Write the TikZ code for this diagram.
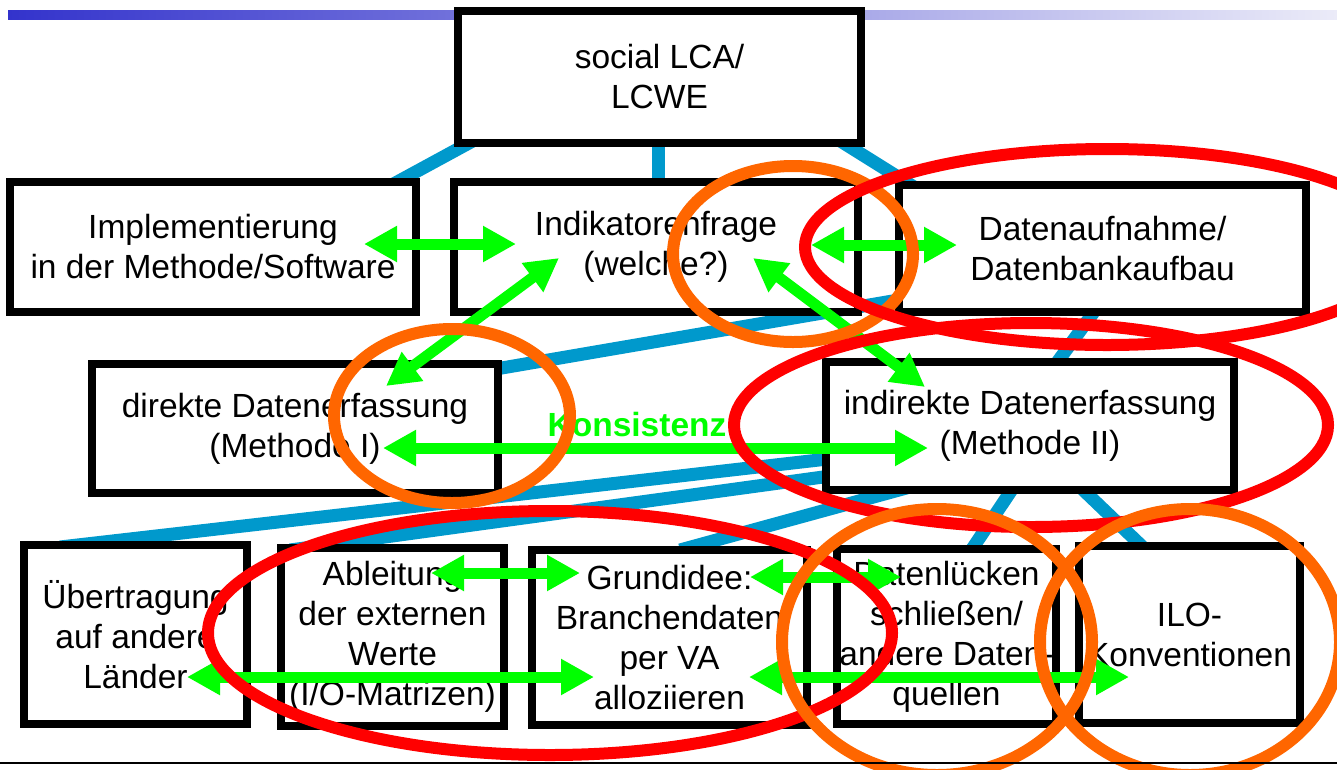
\documentclass[tikz,border=0pt]{standalone}
\usepackage{fontspec}
\setmainfont{Liberation Sans}
\usetikzlibrary{arrows.meta,calc}
\definecolor{linkblue}{RGB}{0,153,204}
\definecolor{arrowgreen}{RGB}{0,255,0}
\definecolor{ringorange}{RGB}{255,102,0}
\definecolor{ringred}{RGB}{255,0,0}
\definecolor{barleft}{RGB}{51,51,204}
\definecolor{barright}{RGB}{235,235,248}
\begin{document}
\begin{tikzpicture}[x=1pt,y=-1pt,
  box/.style={draw=black, line width=8pt, fill=white, inner sep=0pt, align=center,
    font=\fontsize{33.5}{40}\selectfont},
  link/.style={draw=linkblue, line width=13pt},
  biarrow/.style={draw=arrowgreen, line width=11pt,
    {Triangle[length=33pt,width=34pt]}-{Triangle[length=33pt,width=34pt]}},
  ring/.style={line width=12pt}]
\useasboundingbox (0,0) rectangle (1337,769);

% title gradient bar
\shade[left color=barleft,right color=barright] (8,10) rectangle (1337,19);

% connector end points (blue tree lines, drawn behind the boxes)
\coordinate (t1a) at (480,137);  \coordinate (t1b) at (388,187);
\coordinate (t2a) at (658,137);  \coordinate (t2b) at (658,187);
\coordinate (t3a) at (834,137);  \coordinate (t3b) at (914,187);
\coordinate (d1a) at (910,298);  \coordinate (d1b) at (490,370);
\coordinate (d2a) at (1099,305); \coordinate (d2b) at (1053,368);
\coordinate (i1a) at (845,457);  \coordinate (i1b) at (60,547);
\coordinate (i2a) at (845,474);  \coordinate (i2b) at (290,550);
\coordinate (i3a) at (910,487);  \coordinate (i3b) at (680,550);
\coordinate (i4a) at (1013,488); \coordinate (i4b) at (968,555);
\coordinate (i5a) at (1078,485); \coordinate (i5b) at (1148,552);

\draw[link] (t1a) -- (t1b);
\draw[link] (t2a) -- (t2b);
\draw[link] (t3a) -- (t3b);
\draw[link] (d1a) -- (d1b);
\draw[link] (d2a) -- (d2b);
\draw[link] (i1a) -- (i1b);
\draw[link] (i2a) -- (i2b);
\draw[link] (i3a) -- (i3b);
\draw[link] (i4a) -- (i4b);
\draw[link] (i5a) -- (i5b);

% boxes
\node[box, minimum width=403pt, minimum height=132pt] (top) at (659.5,77) {social LCA/\\LCWE};
\node[box, minimum width=406pt, minimum height=130pt] (impl) at (213,247) {Implementierung\\in der Methode/Software};
\node[box, minimum width=404pt, minimum height=130pt] (indik) at (656,247) {Indikatorenfrage\\(welche?)};
\node[box, minimum width=407pt, minimum height=127pt] (daten) at (1102.5,248.5) {Datenaufnahme/\\Datenbankaufbau};
\node[box, minimum width=406pt, minimum height=129pt] (direkt) at (295,428.5) {direkte Datenerfassung\\(Methode I)};
\node[box, minimum width=408pt, minimum height=128pt] (indirekt) at (1030,426) {indirekte Datenerfassung\\(Methode II)};
\node[box, minimum width=223pt, minimum height=179pt] (uebertr) at (135.5,634.5) {Übertragung\\auf andere\\Länder};
\node[box, minimum width=223pt, minimum height=178pt] (ableit) at (392.5,637) {Ableitung\\der externen\\Werte\\(I/O-Matrizen)};
\node[box, minimum width=275pt, minimum height=175pt] (grund) at (669.5,637.5) {Grundidee:\\Branchendaten\\per VA\\alloziieren};
\node[box, minimum width=219pt, minimum height=175pt] (luecke) at (946.5,636.5) {Datenlücken\\schließen/\\andere Daten-\\quellen};
\node[box, minimum width=221pt, minimum height=177pt] (ilo) at (1189.5,634.5) {ILO-\\Konventionen};

% green double arrows
\coordinate (a1) at (364,244);  \coordinate (a2) at (516,244);
\coordinate (b1) at (559,258);  \coordinate (b2) at (386,386);
\coordinate (c1) at (811,245);  \coordinate (c2) at (957,245);
\coordinate (e1) at (753,258);  \coordinate (e2) at (925,387);
\coordinate (k1) at (383,448);  \coordinate (k2) at (928,448);
\coordinate (f1) at (431,573);  \coordinate (f2) at (580,573);
\coordinate (g1) at (750,577);  \coordinate (g2) at (901,577);
\coordinate (h1) at (187,677);  \coordinate (h2) at (594,677);
\coordinate (j1) at (749,677);  \coordinate (j2) at (1129,677);

\draw[biarrow] (a1) -- (a2);
\draw[biarrow] (b1) -- (b2);
\draw[biarrow] (c1) -- (c2);
\draw[biarrow] (e1) -- (e2);
\draw[biarrow] (k1) -- (k2);
\draw[biarrow] (f1) -- (f2);
\draw[biarrow] (g1) -- (g2);
\draw[biarrow] (h1) -- (h2);
\draw[biarrow] (j1) -- (j2);

\node[text=arrowgreen, inner sep=0pt, font=\fontsize{33.5}{40}\selectfont\bfseries] (kons) at (637,425) {Konsistenz};

% highlight rings
\draw[ring, ringorange] (793,254) ellipse [x radius=120pt, y radius=88pt];
\draw[ring, ringorange] (452,416) ellipse [x radius=118pt, y radius=87pt];
\draw[ring, ringred] (1107,247) ellipse [x radius=302pt, y radius=98pt];
\draw[ring, ringred] (1031,425) ellipse [x radius=297pt, y radius=102pt];
\draw[ring, ringred] (550,633) ellipse [x radius=342pt, y radius=122pt];
\draw[ring, ringorange] (937,642) ellipse [x radius=155pt, y radius=133pt];
\draw[ring, ringorange] (1190,642) ellipse [x radius=150pt, y radius=133pt];

% bottom rule
\coordinate (bl) at (0,763); \coordinate (br) at (1337,763);
\draw[line width=2pt] (bl) -- (br);
\end{tikzpicture}
\end{document}
